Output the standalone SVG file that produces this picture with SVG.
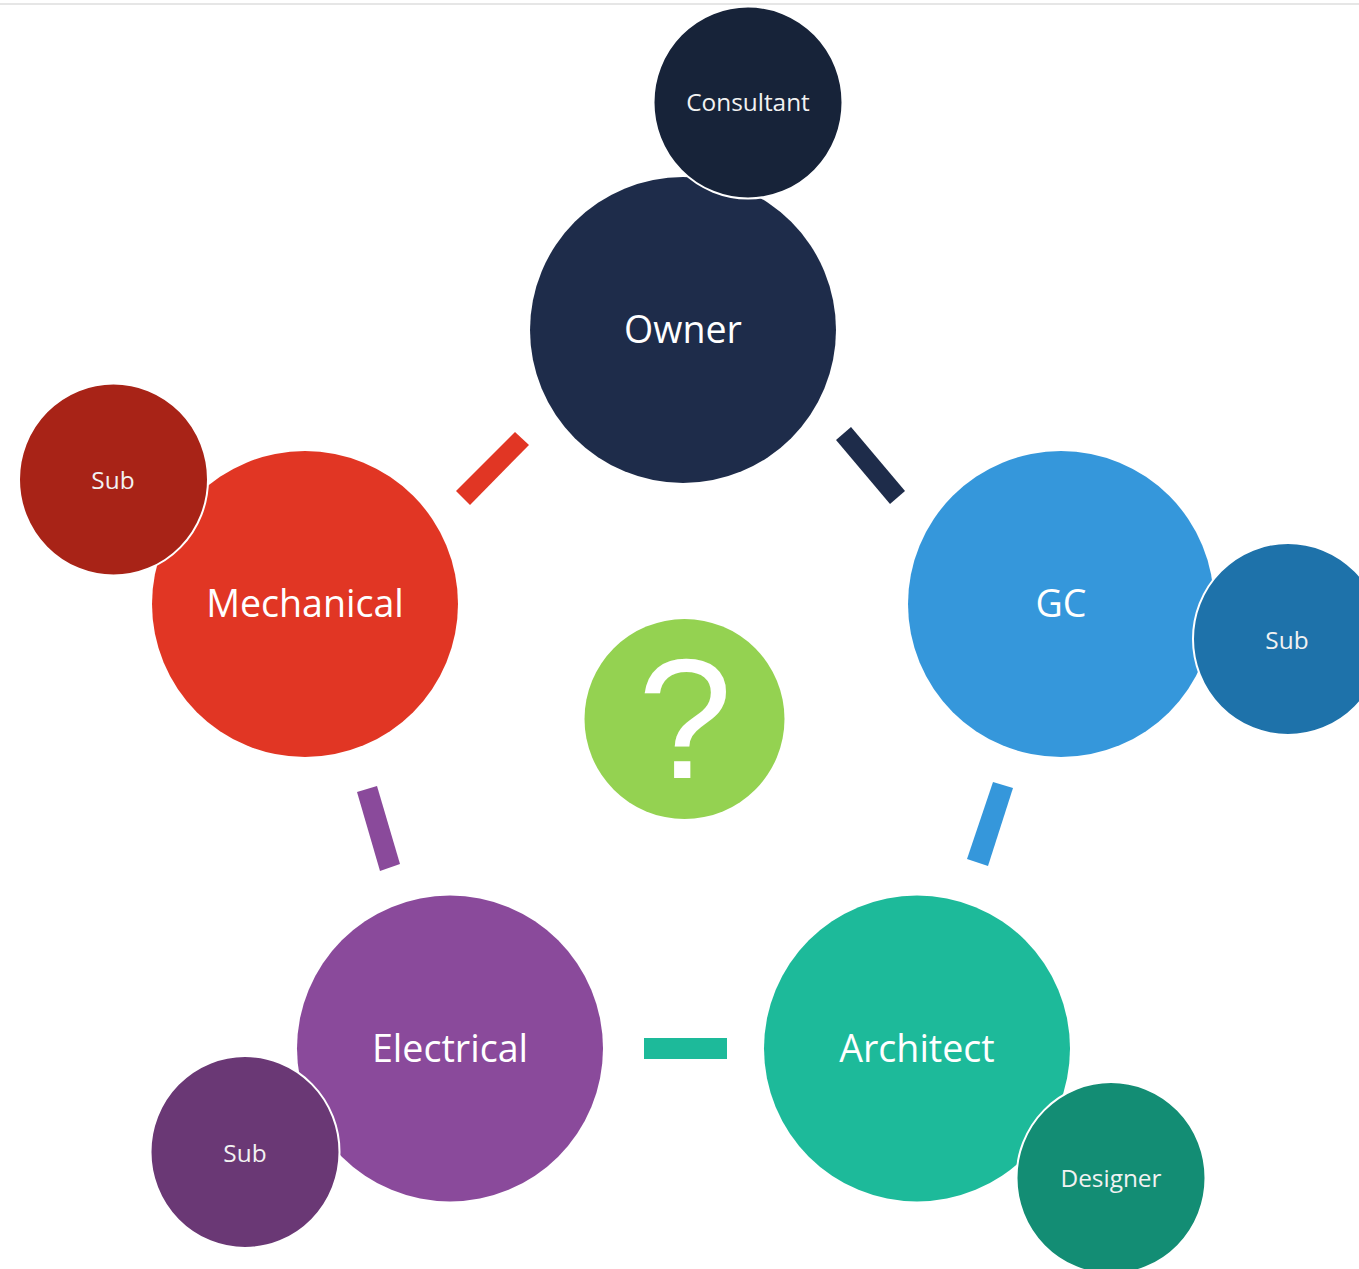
<svg xmlns="http://www.w3.org/2000/svg" width="1359" height="1269" viewBox="0 0 1359 1269">
<style>
text{font-family:"Open Sans","Noto Sans","Liberation Sans",sans-serif;fill:#fff;text-anchor:middle;dominant-baseline:central}
.big{font-size:37.600px}
.small{font-size:24.400px;fill:#f2f2f2}
.sat{stroke:#fff;stroke-width:2}
</style>
<rect width="1359" height="1269" fill="#fff"/>
<rect x="0" y="3" width="1359" height="2" fill="#e6e6e6"/>
<g id="connectors">
<polygon points="515,432 529,445 470,505 456,491" fill="#e13624"/>
<polygon points="851,427 905,491 890,504 836,440" fill="#1e2c4a"/>
<polygon points="993,782 1013,788 988,866 967,859" fill="#3597db"/>
<rect x="644" y="1038" width="83" height="21" fill="#1dba9a"/>
<polygon points="357,792 377,786 400,864 380,871" fill="#8a4a9b"/>
</g>
<g id="owner"><circle cx="683" cy="330" r="153" fill="#1e2c4a"/><text x="683" y="328" class="big">Owner</text></g>
<g id="consultant"><ellipse cx="748" cy="102.500" rx="94.500" ry="96" fill="#172339" class="sat"/><text x="748" y="101" class="small">Consultant</text></g>
<g id="gc"><circle cx="1061" cy="604" r="153" fill="#3597db"/><text x="1061" y="602" class="big">GC</text></g>
<g id="gc-sub"><ellipse cx="1288" cy="639" rx="95" ry="96" fill="#1e72aa" class="sat"/><text x="1287" y="639" class="small">Sub</text></g>
<g id="architect"><circle cx="917" cy="1048.500" r="153" fill="#1dba9a"/><text x="917" y="1047" class="big">Architect</text></g>
<g id="designer"><ellipse cx="1111" cy="1178" rx="94.500" ry="96" fill="#138d74" class="sat"/><text x="1111" y="1177" class="small">Designer</text></g>
<g id="electrical"><circle cx="450" cy="1048.500" r="153" fill="#8a4a9b"/><text x="450" y="1047" class="big">Electrical</text></g>
<g id="electrical-sub"><ellipse cx="245" cy="1152" rx="94.500" ry="96" fill="#6a3875" class="sat"/><text x="245" y="1152" class="small">Sub</text></g>
<g id="mechanical"><circle cx="305" cy="604" r="153" fill="#e13624"/><text x="305" y="602" class="big">Mechanical</text></g>
<g id="mechanical-sub"><ellipse cx="113.500" cy="479.500" rx="94.500" ry="96" fill="#a82317" class="sat"/><text x="113" y="479" class="small">Sub</text></g>
<g id="center"><circle cx="684.500" cy="719" r="100" fill="#94d251"/><text x="685" y="719" font-size="170" style="font-family:'Liberation Sans',Arial,sans-serif">?</text></g>
</svg>
